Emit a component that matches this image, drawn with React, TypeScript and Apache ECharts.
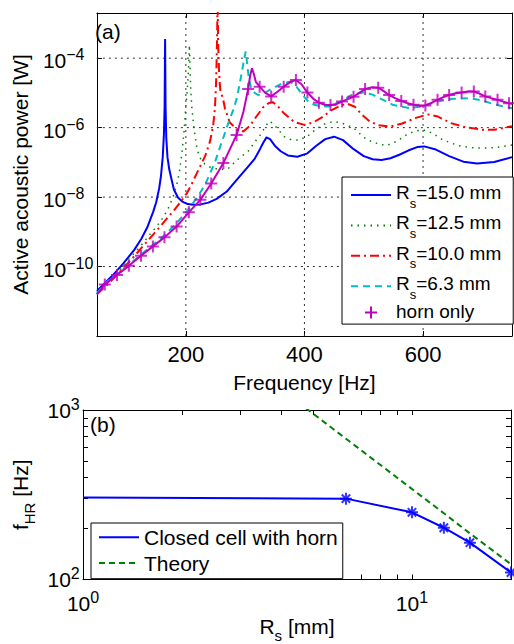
import { useEffect, useRef } from 'react';
import * as echarts from 'echarts';

const FONT = '"Liberation Sans", Arial, Helvetica, sans-serif';

// ---- Panel (a): active acoustic power vs frequency (log10 of power in W) ----
const rs15Freq = [50, 65, 80, 95, 113, 125, 135, 145, 150, 155, 158, 161, 163, 164.2, 165, 165.8, 167, 169, 172, 176, 180, 187, 194, 203, 213, 225, 238, 252, 269, 285, 305, 316, 325, 331, 336, 342, 350, 360, 372, 388, 405, 420, 435, 450, 465, 483, 500, 515, 530, 545, 560, 575, 590, 602, 620, 644, 668, 691, 720, 750];
const rs15LogP = [-10.7, -10.45, -10.19, -9.9, -9.52, -9.2, -8.87, -8.42, -8.15, -7.75, -7.4, -6.85, -6.2, -5.4, -3.45, -5.4, -6.3, -6.85, -7.2, -7.5, -7.79, -8.02, -8.13, -8.2, -8.22, -8.21, -8.16, -8.05, -7.84, -7.52, -7.12, -6.9, -6.62, -6.42, -6.28, -6.33, -6.52, -6.68, -6.8, -6.84, -6.74, -6.52, -6.33, -6.26, -6.36, -6.62, -6.82, -6.91, -6.93, -6.88, -6.78, -6.66, -6.56, -6.54, -6.62, -6.82, -6.98, -7.03, -6.99, -6.85];

const rs125Freq = [50, 70, 90, 102, 115, 130, 142, 152, 162, 172, 180, 186, 190, 194, 197, 199.5, 202, 204, 205, 206, 207, 208, 210, 213.3, 219, 225, 232, 242, 258, 272, 285, 305, 319, 327, 334, 341, 348, 358, 366, 378, 390, 405, 422, 436, 450, 465, 483, 500, 515, 538, 555, 572, 586, 600, 615, 633, 660, 688, 720, 750];
const rs125LogP = [-10.74, -10.42, -10.08, -9.82, -9.58, -9.28, -9.02, -8.82, -8.58, -8.27, -7.92, -7.55, -7.18, -6.64, -6.1, -5.49, -5.0, -4.5, -4.1, -3.62, -4.2, -4.82, -5.4, -5.97, -6.64, -6.9, -7.05, -7.15, -7.21, -7.17, -6.95, -6.68, -6.35, -6.18, -5.97, -5.81, -5.9, -6.1, -6.26, -6.35, -6.36, -6.25, -6.01, -5.88, -5.82, -5.88, -6.01, -6.28, -6.42, -6.52, -6.4, -6.21, -6.1, -6.06, -6.15, -6.35, -6.52, -6.59, -6.58, -6.5];

const rs10Freq = [50, 70, 90, 110, 130, 150, 165, 180, 192, 202, 210, 218, 226, 233, 241, 246, 249, 251, 252.5, 253.5, 254.5, 256, 258, 263, 266, 274, 285, 297, 308, 319, 330, 340, 347, 355, 365, 383, 400, 415, 430, 445, 460, 472, 485, 497, 510, 525, 545, 565, 588, 608, 625, 647, 672, 700, 720, 750];
const rs10LogP = [-10.8, -10.48, -10.13, -9.76, -9.37, -8.98, -8.68, -8.38, -8.12, -7.88, -7.62, -7.33, -7.05, -6.8, -6.38, -5.95, -5.45, -4.7, -3.6, -2.3, -3.6, -4.4, -4.91, -5.2, -5.45, -5.85, -6.03, -6.11, -5.95, -5.68, -5.42, -5.29, -5.27, -5.38, -5.58, -5.84, -5.92, -5.85, -5.7, -5.5, -5.37, -5.31, -5.4, -5.63, -5.82, -5.93, -5.97, -5.88, -5.72, -5.62, -5.68, -5.87, -5.99, -6.06, -6.06, -5.96];

const rs63Freq = [50, 63, 84, 104, 124, 144, 164, 184, 205, 215, 224, 233, 241, 250, 258, 266, 273, 280, 286, 291, 295, 298, 301, 303, 306, 310, 316, 322, 330, 345, 360, 375, 385, 395, 405, 416, 430, 442, 460, 483, 500, 515, 530, 550, 577, 600, 624, 650, 677, 700, 720, 750];
const rs63LogP = [-10.78, -10.5, -10.22, -9.95, -9.66, -9.38, -9.1, -8.76, -8.34, -8.1, -7.88, -7.62, -7.31, -6.95, -6.54, -6.15, -5.8, -5.49, -5.15, -4.72, -4.35, -4.05, -3.81, -4.1, -4.55, -4.85, -5.0, -5.06, -5.03, -4.88, -4.75, -4.68, -4.78, -5.02, -5.22, -5.34, -5.39, -5.39, -5.25, -5.03, -4.99, -5.05, -5.18, -5.35, -5.44, -5.38, -5.25, -5.17, -5.15, -5.22, -5.33, -5.44];

const hornFreq = [50, 63.3, 83.9, 103.9, 124.4, 144.4, 163.9, 184.4, 205, 224.4, 242.8, 263.3, 285.6, 297, 305, 308.5, 311.5, 314.5, 318, 324.4, 334, 344, 355, 365, 376, 385.6, 395, 405, 415, 424.4, 434, 443.9, 454, 463.3, 473, 482.8, 493, 502.2, 513, 524.4, 533, 542.8, 553, 563.3, 574, 583.9, 594, 603.9, 614, 624.4, 634, 644, 655, 665, 675, 685.6, 695, 705, 715, 725.6, 735, 745, 750];
const hornLogP = [-10.8, -10.52, -10.24, -9.98, -9.69, -9.42, -9.16, -8.85, -8.44, -8.08, -7.61, -7.02, -6.21, -5.55, -4.89, -4.5, -4.29, -4.45, -4.68, -4.82, -5.0, -5.1, -4.96, -4.82, -4.69, -4.63, -4.75, -4.99, -5.17, -5.28, -5.34, -5.35, -5.32, -5.25, -5.18, -5.11, -4.99, -4.89, -4.84, -4.85, -4.94, -5.06, -5.15, -5.23, -5.3, -5.34, -5.37, -5.36, -5.29, -5.2, -5.12, -5.06, -5.01, -4.99, -4.96, -4.96, -5.02, -5.1, -5.15, -5.2, -5.25, -5.3, -5.31];

const hornMarkFreq = [63.3, 83.9, 103.9, 124.4, 144.4, 163.9, 184.4, 205, 224.4, 242.8, 263.3, 285.6, 305, 324.4, 344, 365, 385.6, 405, 424.4, 443.9, 463.3, 482.8, 502.2, 524.4, 542.8, 563.3, 583.9, 603.9, 624.4, 644, 665, 685.6, 705, 725.6, 745];
const hornMarkLogP = [-10.52, -10.24, -9.98, -9.69, -9.42, -9.16, -8.85, -8.44, -8.08, -7.61, -7.02, -6.21, -4.89, -4.82, -5.1, -4.82, -4.63, -4.99, -5.28, -5.35, -5.25, -5.11, -4.89, -4.85, -5.06, -5.23, -5.34, -5.36, -5.2, -5.06, -4.99, -4.96, -5.1, -5.2, -5.3];

const freqTicks = [200, 400, 600];
const powerTickExps = [-10, -8, -6, -4];

// ---- Panel (b): resonance frequency vs cell radius ----
const cellRs = [1, 6.3, 10, 12.5, 15, 20];
const cellFhr = [305, 300, 249, 202, 165, 110];
const cellMarkRs = [6.3, 10, 12.5, 15, 20];
const cellMarkFhr = [300, 249, 202, 165, 110];
const theoryRs = [4.5, 6.3, 10, 12.5, 15, 20];
const theoryFhr = [1114, 677, 342, 246, 187, 123];

const rsTickValues = [1, 2, 3, 4, 5, 6, 7, 8, 9, 10, 20];
const rsLabelValues = [1, 10];
const fhrTickValues = [100, 200, 300, 400, 500, 600, 700, 800, 900, 1000];
const fhrLabelValues = [100, 1000];

const BLUE = '#0000ff';
const GREEN = '#008000';
const RED = '#ff0000';
const CYAN = '#00bfbf';
const MAGENTA = '#bf00bf';
const PLUS = 'path://M0,-1L0,1M-1,0L1,0';
const STAR = 'path://M0,-1L0,1M-1,0L1,0M-0.7,-0.7L0.7,0.7M-0.7,0.7L0.7,-0.7';

const pairs = (xs: number[], ys: number[]) => xs.map((x, i) => [x, ys[i]]);
const logPairs = (xs: number[], ys: number[]) => xs.map((x, i) => [Math.log10(x), Math.log10(ys[i])]);
const lg = (vs: number[]) => vs.map((v) => Math.log10(v));

const richTick = {
  b: { fontFamily: FONT, fontSize: 21, lineHeight: 24, verticalAlign: 'middle', color: '#000' },
  e: { fontFamily: FONT, fontSize: 16, lineHeight: 12, height: 12, verticalAlign: 'top', color: '#000' },
};
const powLabel = (v: number) => {
  const n = Math.round(v);
  return `{b|10}{e|${n < 0 ? '\u2212' : ''}${Math.abs(n)}}`;
};

const richName = {
  r: { fontFamily: FONT, fontSize: 21, lineHeight: 24, height: 24, verticalAlign: 'top', color: '#000' },
  s: { fontFamily: FONT, fontSize: 15, lineHeight: 6, height: 6, verticalAlign: 'bottom', color: '#000' },
};

const richLegend = {
  r: { fontFamily: FONT, fontSize: 19, lineHeight: 24, height: 24, verticalAlign: 'top', color: '#000' },
  s: { fontFamily: FONT, fontSize: 13, lineHeight: 3, height: 3, verticalAlign: 'bottom', color: '#000' },
  h: { fontFamily: FONT, fontSize: 19, lineHeight: 24, verticalAlign: 'middle', color: '#000' },
};

const frame = { show: true, onZero: false, lineStyle: { color: '#000', width: 1 } };

function mirrorX(gridIndex: number, min: number, max: number, ticks: number[]) {
  return {
    type: 'value', gridIndex, position: 'top', min, max,
    axisLine: frame,
    axisTick: { show: true, inside: true, length: 5, customValues: ticks, lineStyle: { color: '#000' } },
    axisLabel: { show: false },
    splitLine: { show: false },
  };
}
function mirrorY(gridIndex: number, min: number, max: number, ticks: number[]) {
  return {
    type: 'value', gridIndex, position: 'right', min, max,
    axisLine: frame,
    axisTick: { show: true, inside: true, length: 5, customValues: ticks, lineStyle: { color: '#000' } },
    axisLabel: { show: false },
    splitLine: { show: false },
  };
}

function buildOption() {
  const xMinA = 50;
  const xMaxA = 750;
  const yMinA = -12;
  const yMaxA = Math.log10(2e-3);
  const xMaxB = Math.log10(20);

  const lineSeries = (name: string, xs: number[], ys: number[], color: string, width: number, type: any) => ({
    type: 'line', name, xAxisIndex: 0, yAxisIndex: 0,
    data: pairs(xs, ys),
    symbol: 'none', showSymbol: false, silent: true, z: 3,
    lineStyle: { color, width, type },
    itemStyle: { color },
    emphasis: { disabled: true },
  });

  // dotted reference grid of panel (a), one segment per tick on the frequency / power scales
  const gridSeries = [
    ...freqTicks.map((v) => ({ from: [v, yMinA], to: [v, yMaxA], key: `f${v}` })),
    ...powerTickExps.map((v) => ({ from: [xMinA, v], to: [xMaxA, v], key: `p${v}` })),
  ].map((g) => ({
    type: 'line', name: `grid ${g.key}`, xAxisIndex: 0, yAxisIndex: 0,
    data: [g.from, g.to],
    symbol: 'none', showSymbol: false, silent: true, z: 1,
    lineStyle: { color: '#333333', width: 1, type: [2, 4] },
    emphasis: { disabled: true },
  }));

  return {
    animation: false,
    backgroundColor: '#ffffff',
    textStyle: { fontFamily: FONT, color: '#000' },
    title: [
      { text: '(a)', left: 95, top: 19, padding: 0, textStyle: { fontFamily: FONT, fontSize: 21, fontWeight: 'normal', lineHeight: 24, color: '#000' } },
      { text: '(b)', left: 90, top: 412, padding: 0, textStyle: { fontFamily: FONT, fontSize: 21, fontWeight: 'normal', lineHeight: 24, color: '#000' } },
    ],
    grid: [
      { left: 92, top: 13, width: 420, height: 323, containLabel: false },
      { left: 83, top: 410, width: 428, height: 174, containLabel: false },
    ],
    legend: [
      {
        data: [
          { name: 'Rs=15.0 mm' },
          { name: 'Rs=12.5 mm' },
          { name: 'Rs=10.0 mm' },
          { name: 'Rs=6.3 mm' },
          { name: 'horn only', itemStyle: { opacity: 1 }, textStyle: { padding: [0, 0, 2, 0] } },
        ],
        orient: 'vertical', left: 342, top: 177,
        itemWidth: 40, itemHeight: 12, itemGap: 1.4,
        padding: [3.5, 12, 3, 8],
        borderColor: '#000', borderWidth: 1, borderRadius: 0, backgroundColor: '#fff',
        selectedMode: false, z: 10,
        itemStyle: { opacity: 0 },
        formatter: (name: string) => name.startsWith('Rs') ? `{r|R}{s|s}{r|${name.slice(2)}}` : `{h|${name}}`,
        textStyle: { fontFamily: FONT, fontSize: 19, color: '#000', padding: [0, 0, 5, 0], rich: richLegend },
      },
      {
        data: ['Closed cell with horn', 'Theory'],
        orient: 'vertical', left: 91, top: 523,
        itemWidth: 40, itemHeight: 12, itemGap: 3.8,
        padding: [3.2, 5, 4.7, 7],
        borderColor: '#000', borderWidth: 1, borderRadius: 0, backgroundColor: '#fff',
        selectedMode: false, z: 10,
        itemStyle: { opacity: 0 },
        textStyle: { fontFamily: FONT, fontSize: 21, lineHeight: 22, color: '#000' },
      },
    ],
    xAxis: [
      {
        type: 'value', gridIndex: 0, position: 'bottom', min: xMinA, max: xMaxA,
        name: 'Frequency [Hz]', nameLocation: 'middle', nameGap: 33,
        nameTextStyle: { fontFamily: FONT, fontSize: 21, lineHeight: 24, color: '#000' },
        axisLine: frame,
        axisTick: { show: true, inside: true, length: 5, customValues: freqTicks, lineStyle: { color: '#000' } },
        axisLabel: { show: true, customValues: freqTicks, margin: 6, fontFamily: FONT, fontSize: 22, lineHeight: 24, color: '#000' },
        splitLine: { show: false },
      },
      mirrorX(0, xMinA, xMaxA, freqTicks),
      {
        type: 'value', gridIndex: 1, position: 'bottom', min: 0, max: xMaxB,
        name: '{r|R}{s|s}{r| [mm]}', nameLocation: 'middle', nameGap: 35,
        nameTextStyle: { rich: richName },
        axisLine: frame,
        axisTick: { show: true, inside: true, length: 5, customValues: lg(rsTickValues), lineStyle: { color: '#000' } },
        axisLabel: { show: true, customValues: lg(rsLabelValues), margin: 11.5, formatter: powLabel, rich: richTick },
        splitLine: { show: false },
      },
      mirrorX(1, 0, xMaxB, lg(rsTickValues)),
    ],
    yAxis: [
      {
        type: 'value', gridIndex: 0, position: 'left', min: yMinA, max: yMaxA,
        name: 'Active acoustic power [W]', nameLocation: 'middle', nameGap: 57,
        nameTextStyle: { fontFamily: FONT, fontSize: 21, lineHeight: 24, color: '#000' },
        axisLine: frame,
        axisTick: { show: true, inside: true, length: 5, customValues: powerTickExps, lineStyle: { color: '#000' } },
        axisLabel: { show: true, customValues: powerTickExps, align: 'left', margin: 54, padding: [5, 0, 0, 0], formatter: powLabel, rich: richTick },
        splitLine: { show: false },
      },
      mirrorY(0, yMinA, yMaxA, powerTickExps),
      {
        type: 'value', gridIndex: 1, position: 'left', min: 2, max: 3,
        name: '{r|f}{s|HR}{r| [Hz]}', nameLocation: 'middle', nameGap: 46,
        nameTextStyle: { rich: richName },
        axisLine: frame,
        axisTick: { show: true, inside: true, length: 5, customValues: lg(fhrTickValues), lineStyle: { color: '#000' } },
        axisLabel: { show: true, customValues: lg(fhrLabelValues), align: 'left', margin: 35.5, formatter: powLabel, rich: richTick },
        splitLine: { show: false },
      },
      mirrorY(1, 2, 3, lg(fhrTickValues)),
    ],
    series: [
      ...gridSeries,
      lineSeries('Rs=15.0 mm', rs15Freq, rs15LogP, BLUE, 2, 'solid'),
      lineSeries('Rs=12.5 mm', rs125Freq, rs125LogP, GREEN, 1.5, [1.5, 5]),
      lineSeries('Rs=10.0 mm', rs10Freq, rs10LogP, RED, 2, [9, 4, 2, 4]),
      lineSeries('Rs=6.3 mm', rs63Freq, rs63LogP, CYAN, 2, [7, 5]),
      lineSeries('horn only line', hornFreq, hornLogP, MAGENTA, 2, 'solid'),
      {
        type: 'scatter', name: 'horn only', xAxisIndex: 0, yAxisIndex: 0,
        data: pairs(hornMarkFreq, hornMarkLogP),
        symbol: PLUS, symbolSize: 12, silent: true, z: 4,
        itemStyle: { color: MAGENTA, borderColor: MAGENTA, borderWidth: 2 },
        emphasis: { disabled: true },
      },
      {
        type: 'line', name: 'Closed cell with horn', xAxisIndex: 2, yAxisIndex: 2,
        data: logPairs(cellRs, cellFhr),
        symbol: 'none', showSymbol: false, silent: true,
        lineStyle: { color: BLUE, width: 2 }, itemStyle: { color: BLUE },
        emphasis: { disabled: true },
      },
      {
        type: 'line', name: 'Theory', xAxisIndex: 2, yAxisIndex: 2,
        data: logPairs(theoryRs, theoryFhr),
        symbol: 'none', showSymbol: false, silent: true,
        lineStyle: { color: GREEN, width: 2, type: [6, 4] }, itemStyle: { color: GREEN },
        emphasis: { disabled: true },
      },
      {
        type: 'scatter', name: 'Closed cell points', xAxisIndex: 2, yAxisIndex: 2,
        data: logPairs(cellMarkRs, cellMarkFhr),
        symbol: STAR, symbolSize: 12, silent: true,
        itemStyle: { color: BLUE, borderColor: BLUE, borderWidth: 2 },
        emphasis: { disabled: true },
      },
    ],
  };
}

export default function App() {
  const ref = useRef<HTMLDivElement>(null);
  useEffect(() => {
    if (!ref.current) return;
    const chart = echarts.init(ref.current, null, { renderer: 'svg' });
    chart.setOption(buildOption() as any);
    return () => chart.dispose();
  }, []);
  return (
    <div
      ref={ref}
      style={{ position: 'absolute', left: 0, top: 0, width: 514, height: 644, background: '#fff' }}
    />
  );
}
